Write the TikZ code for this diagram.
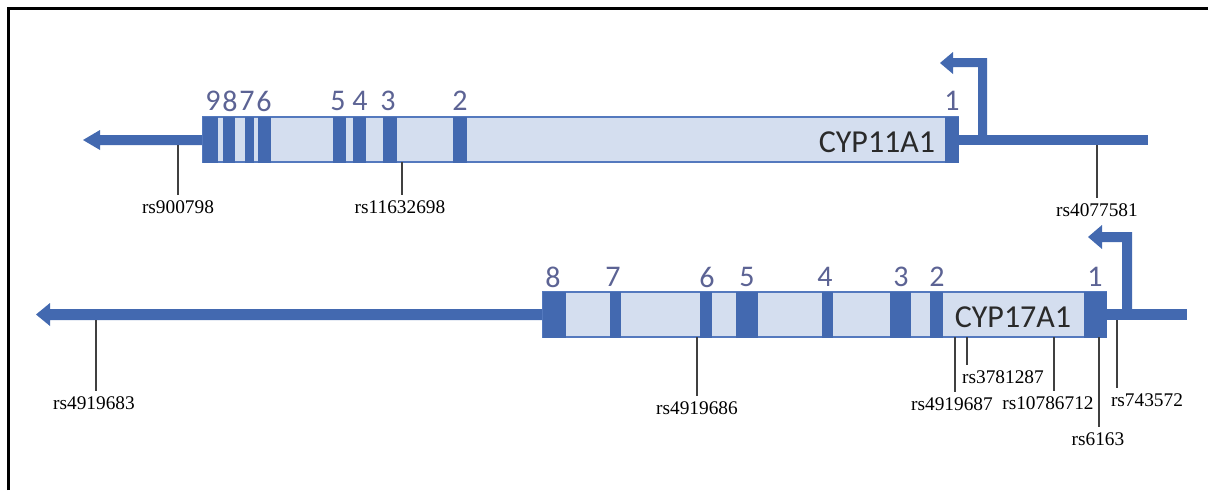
\documentclass[tikz,border=0pt]{standalone}
\usepackage{fontspec}
\setmainfont{Liberation Serif}
\newfontfamily\calfont{Carlito}
\definecolor{exon}{HTML}{4369B0}
\definecolor{boxfill}{HTML}{D4DEEF}
\definecolor{boxline}{HTML}{5479BE}
\definecolor{numcol}{HTML}{5C6394}
\definecolor{cyptext}{HTML}{2A2A2A}
\definecolor{snpline}{HTML}{404040}
\begin{document}
\begin{tikzpicture}[x=0.75pt,y=-0.75pt,
  exonbox/.style={fill=exon,draw=exon,line width=0.4pt},
  genebox/.style={fill=boxfill,draw=boxline,line width=1.3pt},
  exnum/.style={font=\calfont\fontsize{22.5}{23}\selectfont,text=numcol,inner sep=0pt},
  genename/.style={font=\calfont\fontsize{24}{24}\selectfont,text=cyptext,inner sep=0pt},
  snplab/.style={font=\fontsize{14.5}{15}\selectfont,inner sep=0pt,outer ysep=4pt},
  snp/.style={draw=snpline,line width=1.2pt},
  dna/.style={fill=exon}]
\useasboundingbox (0,0) rectangle (1208,490);
% frame
\draw[line width=2.3pt] (8.5,490) -- (8.5,8.5) -- (1208,8.5);

% ---------------- CYP11A1 ----------------
\fill[dna] (203,135) -- (100,135) -- (100,130) -- (83,140) -- (100,150) -- (100,145) -- (203,145) -- cycle;
\fill[dna] (958,135) rectangle (1148,145);
\fill[dna] (978,140) -- (987,140) -- (987,58) -- (953,58) -- (953,52) -- (940,63) -- (953,74) -- (953,67) -- (978,67) -- cycle;
\draw[genebox] (203,117) rectangle (958,162);
\foreach \a/\b in {203/217,223/234,245/253,258/270,333/345,353/365,383/396,453/466,945/958}
  \draw[exonbox] (\a,117) rectangle (\b,162);
\foreach \n/\x in {9/213,8/230,7/247,6/264,5/338,4/360,3/388,2/460,1/952}
  \node[exnum] (a\n) at (\x,101) {\n};
\node[genename] (g1) at (877,142) {CYP11A1};

% SNPs top
\node[snplab] (s1) at (178,207) {rs900798};
\node[snplab] (s2) at (400,207) {rs11632698};
\node[snplab] (s3) at (1097,210) {rs4077581};
\coordinate (t1) at (178,145);
\coordinate (t2) at (402,162);
\coordinate (t3) at (1097,145);
\draw[snp] (t1) -- (t1 |- s1.north);
\draw[snp] (t2) -- (t2 |- s2.north);
\draw[snp] (t3) -- (t3 |- s3.north);

% ---------------- CYP17A1 ----------------
\fill[dna] (543,309) -- (50,309) -- (50,303) -- (36,314.5) -- (50,326) -- (50,320) -- (543,320) -- cycle;
\fill[dna] (1106,309) rectangle (1187,320);
\fill[dna] (1122,314) -- (1132,314) -- (1132,232) -- (1102,232) -- (1102,225) -- (1088,237) -- (1102,249) -- (1102,242) -- (1122,242) -- cycle;
\draw[genebox] (543,292) rectangle (1106,337);
\foreach \a/\b in {543/565,610/620,700/711,736/757,822/832,890/910,930/942,1084/1106}
  \draw[exonbox] (\a,292) rectangle (\b,337);
\foreach \n/\x in {8/553,7/613,6/707,5/747,4/825,3/901,2/937,1/1095}
  \node[exnum] (b\n) at (\x,277) {\n};
\node[genename] (g2) at (1013,317) {CYP17A1};

% SNPs bottom
\node[snplab] (u1) at (94,403) {rs4919683};
\node[snplab] (u2) at (697,408) {rs4919686};
\node[snplab] (u3) at (952,404) {rs4919687};
\node[snplab] (u4) at (1003,377) {rs3781287};
\node[snplab] (u5) at (1048,403) {rs10786712};
\node[snplab] (u6) at (1098,439) {rs6163};
\node[snplab] (u7) at (1147,400) {rs743572};
\coordinate (v1) at (96,320);
\coordinate (v2) at (697,337);
\coordinate (v3) at (955,337);
\coordinate (v4) at (967,337);
\coordinate (v5) at (1054,337);
\coordinate (v6) at (1099,337);
\coordinate (v7) at (1117,320);
\draw[snp] (v1) -- (v1 |- u1.north);
\draw[snp] (v2) -- (v2 |- u2.north);
\draw[snp] (v3) -- (v3 |- u3.north);
\draw[snp] (v4) -- (v4 |- u4.north);
\draw[snp] (v5) -- (v5 |- u5.north);
\draw[snp] (v6) -- (v6 |- u6.north);
\draw[snp] (v7) -- (v7 |- u7.north);
\end{tikzpicture}
\end{document}
